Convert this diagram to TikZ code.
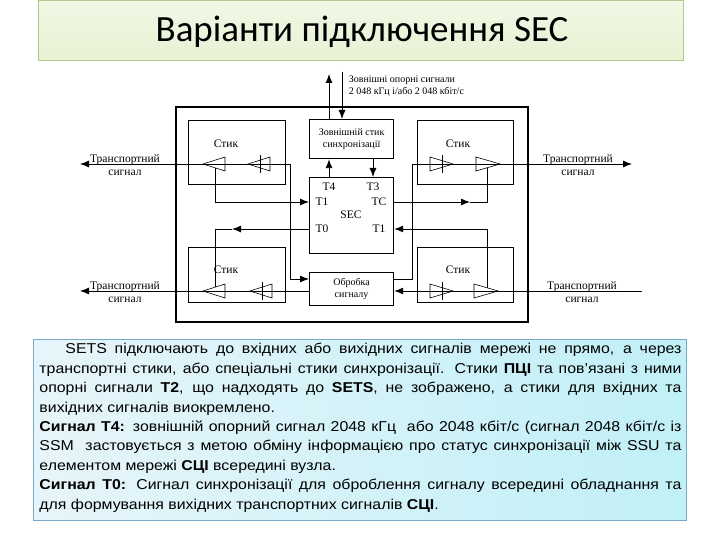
\documentclass[tikz,border=0pt]{standalone}
\usepackage{fontspec}
\setmainfont{Liberation Serif}
\newfontfamily\arial[FakeStretch=1.11]{Liberation Sans}
\newfontfamily\calibri{Carlito}
\usetikzlibrary{arrows.meta}
\definecolor{titlefill}{RGB}{232,242,212}
\definecolor{titleline}{RGB}{178,200,140}
\definecolor{textfill}{RGB}{214,238,246}
\definecolor{textline}{RGB}{120,170,200}
\begin{document}
\begin{tikzpicture}[x=1pt,y=-1pt,line width=0.9pt,
  blk/.style={draw,line width=1.2pt},
  lab/.style={font=\fontsize{11.5}{12.5}\selectfont},
  arr/.style={-{Latex[length=9pt,width=7pt]}},
  tri/.style={draw,line width=0.6pt,fill=white}]
\useasboundingbox (0,0) rectangle (720,540);
% title
\node[draw=titleline,top color=white!40!titlefill,bottom color=titlefill,minimum width=645,minimum height=60,inner sep=0,anchor=north west] (title) at (38,0) {};
\node[font=\calibri\fontsize{37}{40}\selectfont] (tt) at (362,32) {Варіанти підключення SEC};
% outer frame
\draw[line width=1.2pt] (176,107) rectangle (528,322);
\node[blk,minimum width=97,minimum height=64,inner sep=0,anchor=north west] (s1) at (188,120) {};
\node[blk,minimum width=96,minimum height=64,inner sep=0,anchor=north west] (s2) at (417,120) {};
\node[blk,minimum width=97,minimum height=55,inner sep=0,anchor=north west] (s3) at (188,247) {};
\node[blk,minimum width=96,minimum height=55,inner sep=0,anchor=north west] (s4) at (417,247) {};
\node[lab] (l1) at (226,144) {Стик};
\node[lab] (l2) at (458,144) {Стик};
\node[lab] (l3) at (226,270) {Стик};
\node[lab] (l4) at (458,270) {Стик};
\node[blk,minimum width=84,minimum height=39,inner sep=0,anchor=north west,align=center,font=\fontsize{10}{12}\selectfont] (ext) at (309,119) {Зовнішній стик\\синхронізації};
\node[blk,minimum width=84,minimum height=76,inner sep=0,anchor=north west] (sec) at (309,177) {};
\node[blk,fill=white,minimum width=84,minimum height=33,inner sep=0,anchor=north west,align=center,font=\fontsize{10}{12}\selectfont] (obr) at (309,272) {Обробка\\сигналу};
\node[lab] (t4) at (329,187) {T4};
\node[lab] (t3) at (373,187) {T3};
\node[lab] (t1a) at (322,202) {T1};
\node[lab] (tc) at (379,202) {TC};
\node[lab] (secl) at (351,215) {SEC};
\node[lab] (t0) at (322,229) {T0};
\node[lab] (t1b) at (379,229) {T1};
% coordinates
\coordinate (ou) at (329,74); \coordinate (ind) at (342,72);
\coordinate (L1) at (80,164); \coordinate (L1e) at (290,164); \coordinate (L1d) at (290,279);
\coordinate (R1s) at (412,164); \coordinate (R1) at (632,164); \coordinate (R1d) at (412,279);
\coordinate (L2) at (80,291); \coordinate (R2) at (642,291);
\coordinate (a1) at (215,164); \coordinate (a1d) at (215,202);
\coordinate (b1) at (215,291); \coordinate (b1u) at (215,229); \coordinate (b1m) at (232,229);
\coordinate (c1) at (487,164); \coordinate (c1d) at (487,202); \coordinate (c1m) at (470,202);
\coordinate (d1) at (487,291); \coordinate (d1u) at (487,229);
% top
\draw[arr] (ext.north -| ou) -- (ou);
\draw[arr] (ind) -- (ext.north -| ind);
\node[font=\fontsize{10}{12}\selectfont,align=left,anchor=west] (extlab) at (345,86) {Зовнішні опорні сигнали\\2 048 кГц і/або 2 048 кбіт/с};
\draw[arr] (sec.north -| ou) -- (ext.south -| ou);
\draw[arr] (ext.south -| t3) -- (sec.north -| t3);
% signal lines
\draw[arr] (L1e) -- (L1);
\draw (L1e) -- (L1d); \draw[arr] (L1d) -- (L1d -| obr.west);
\draw[arr] (R1s) -- (R1);
\draw (R1s) -- (R1d) -- (R1d -| obr.east);
\draw[arr] (obr.west |- L2) -- (L2);
\draw[arr] (R2) -- (obr.east |- R2);
\draw (a1) -- (a1d); \draw[arr] (a1d) -- (a1d -| sec.west);
\draw[arr] (sec.west |- b1u) -- (b1m); \draw (b1m) -- (b1u) -- (b1);
\draw[arr] (sec.east |- c1d) -- (c1m); \draw (c1m) -- (c1d) -- (c1);
\draw (d1) -- (d1u); \draw[arr] (d1u) -- (d1u -| sec.east);
% triangles
\foreach \x/\y in {203/164,203/291}{\draw[tri] (\x,\y) -- (\x+22,\y-7) -- (\x+22,\y+7) -- cycle;}
\foreach \x/\y in {248/164,250/291}{\draw[tri] (\x,\y) -- (\x+22,\y-7) -- (\x+22,\y+7) -- cycle; \draw[line width=0.6pt] (\x+12,\y-9) -- (\x+12,\y+9);}
\foreach \x/\y in {453/164,453/291}{\draw[tri] (\x,\y) -- (\x-23,\y-7) -- (\x-23,\y+7) -- cycle; \draw[line width=0.6pt] (\x-11,\y-9) -- (\x-11,\y+9);}
\foreach \x/\y in {500/164,498/291}{\draw[tri] (\x,\y) -- (\x-24,\y-7) -- (\x-24,\y+7) -- cycle;}
\draw[line width=0.6pt] (203,164)--(225,164) (248,164)--(270,164) (430,164)--(453,164) (476,164)--(500,164);
\draw[line width=0.6pt] (203,291)--(225,291) (250,291)--(272,291) (430,291)--(453,291) (474,291)--(498,291);
% side labels
\node[lab,align=center] (tl) at (125,165) {Транспортний\\сигнал};
\node[lab,align=center] (tr) at (578,165) {Транспортний\\сигнал};
\node[lab,align=center] (bl) at (125,292) {Транспортний\\сигнал};
\node[lab,align=center] (br) at (582,292) {Транспортний\\сигнал};
% text box
\node[draw=textline,left color=textfill!60,right color=textfill!90!cyan,minimum width=653,minimum height=181,inner sep=0,anchor=north west] (tb) at (33,339) {};
\node[anchor=north west,text width=642,align=justify,inner sep=0,font=\arial\fontsize{14.3}{19.4}\selectfont] (txt) at (39,343) {\hspace*{26pt}SETS підключають до вхідних або вихідних сигналів мережі не прямо, а через\linebreak транспортні стики, або спеціальні стики синхронізації. Стики \textbf{ПЦІ} та пов’язані з ними\linebreak опорні сигнали \textbf{Т2}, що надходять до \textbf{SETS}, не зображено, а стики для вхідних та\linebreak вихідних сигналів виокремлено.\\
\textbf{Сигнал Т4:} зовнішній опорний сигнал 2048 кГц\ \ або 2048 кбіт/с (сигнал 2048 кбіт/с із\linebreak SSM\ \ застовується з метою обміну інформацією про статус синхронізації між SSU та\linebreak елементом мережі \textbf{СЦІ} всередині вузла.\\
\textbf{Сигнал Т0:} Сигнал синхронізації для оброблення сигналу всередині обладнання та\linebreak для формування вихідних транспортних сигналів \textbf{СЦІ}.};
\end{tikzpicture}
\end{document}
